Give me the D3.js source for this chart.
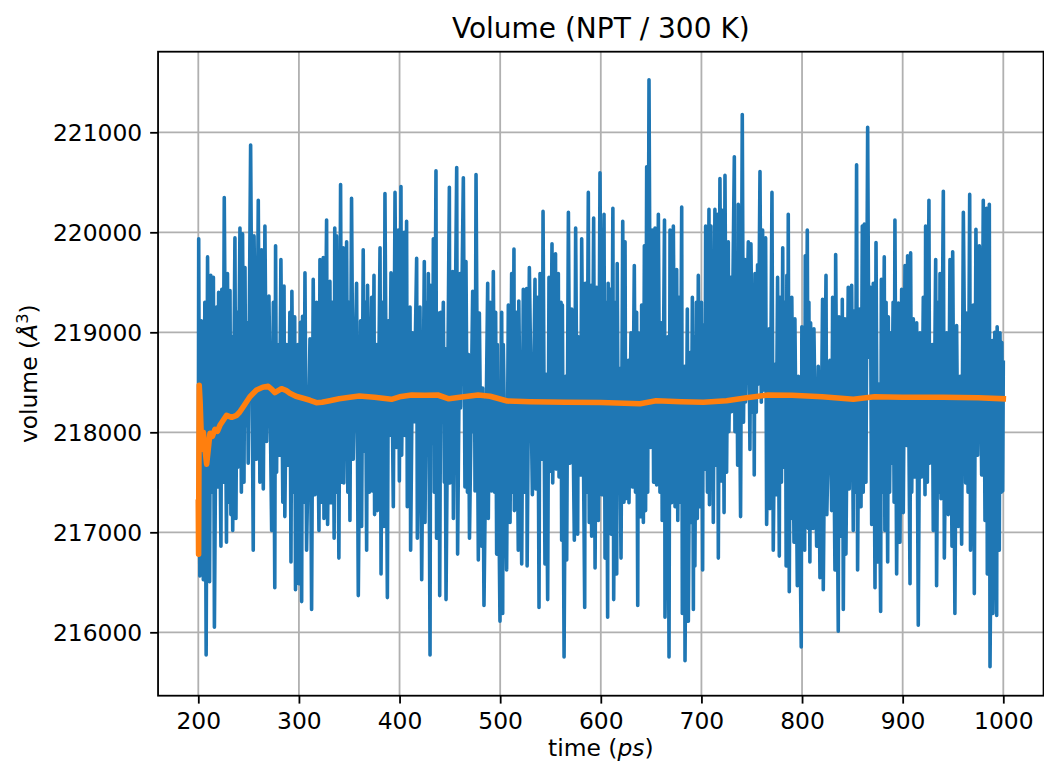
<!DOCTYPE html>
<html>
<head>
<meta charset="utf-8">
<script src="https://cdn.jsdelivr.net/npm/d3@7"></script>
<style>
  html, body { margin: 0; padding: 0; background: #ffffff; }
  svg { display: block; }
  text { font-family: "DejaVu Sans", sans-serif; fill: #000; }
</style>
</head>
<body>
<svg id="chart" width="1044" height="772"></svg>
<script>
// ---------------- data ----------------
const chartTitle = "Volume (NPT / 300 K)";
const xTicks = [200, 300, 400, 500, 600, 700, 800, 900, 1000];
const yTicks = [216000, 217000, 218000, 219000, 220000, 221000];
const xDomain = [160, 1040];
const yDomain = [215366, 221806];

// instantaneous volume [time (ps), volume (Å^3)]
const volumeSamples = [
[200,217200],[200.4,219936],[201.5,216564],[203,219114],[205,216525],[206.5,219300],[207.8,215774],[209.2,219754],[211.2,216505],[212.4,219569],[213.8,217400],[215,219549],[216,216050],[218.2,219252],[219.3,217454],[220.2,219399],[222.5,216861],[223.4,219430],[224.6,217500],[225.8,220347],[228,216900],[229,219588],[230.4,217300],[231.5,219418],[232.4,217177],[233.2,218956],[234.2,217019],[236.4,219944],[237.4,217138],[238.6,219200],[239.3,217651],[241.4,220043],[242.8,217400],[244,219984],[245.4,217500],[246.4,219648],[247.2,218066],[248.6,219095],[249.6,217691],[252,220873],[254.6,216821],[255.4,219964],[257.8,217730],[259.6,220320],[261.2,217500],[262.9,219826],[264.6,217434],[266.2,220063],[267.9,217908],[270.2,219363],[272.9,217019],[274.6,219300],[276,216446],[276.8,219865],[277.8,217600],[278.6,218877],[280.6,217770],[282.1,219727],[284,217300],[285.2,219462],[286,217157],[287.8,218877],[289.4,217671],[291,219200],[292.1,216703],[293,219410],[294.6,217400],[295.8,219154],[296.6,216426],[299,218877],[300,216485],[301.6,219100],[302.7,216307],[303.6,219161],[305,217300],[306,219596],[307.6,216821],[311,218936],[312.6,216228],[314.2,219529],[316,217375],[317.6,219300],[319.9,217019],[320.9,219727],[322.6,217300],[324.2,219747],[324.9,217138],[327.5,220122],[328.5,217078],[330.8,219509],[331.8,217296],[333.5,219300],[335,216940],[335.6,220043],[336.5,217400],[337.4,219964],[339.7,216742],[341.4,220478],[342.6,217500],[344,219845],[344.6,217493],[347.4,219905],[348.6,217400],[349.6,219300],[350.7,217118],[352.3,220340],[354,217730],[357.3,219490],[359,216367],[361.3,219114],[362.3,217059],[363.9,219826],
[364.8,217810],[366,219300],[367.3,216821],[368.2,219470],[370,217400],[372.3,219351],[373,217414],[374.6,219569],[375.2,217177],[377.3,218877],[378,217217],[380.6,219845],[381.6,216584],[383,219300],[384.5,217059],[385.5,220387],[387.9,216347],[388.9,219114],[390,217968],[391.5,219596],[393.8,217256],[395.5,220399],[397.1,217849],[398.8,220023],[399.8,217513],[401.4,220458],[402.1,217770],[404.6,220000],[405.4,217968],[407,220110],[407.7,217256],[410.4,219252],[411,216821],[413,218996],[414.4,218106],[417,219739],[417.7,216940],[420.3,219252],[422,216525],[424.6,219707],[425.3,217098],[427,219300],[427.6,217829],[428.6,219588],[430.3,215774],[431,219470],[432.9,217889],[433.6,219936],[434.5,217400],[436.2,220616],[436.8,216940],[439.2,219193],[439.9,216367],[441,219200],[441.8,218106],[443.5,219300],[444.5,217500],[445.2,218837],[446.2,216327],[449.5,220450],[450.1,217493],[452.8,219608],[453.5,217138],[456.8,220648],[457.7,216782],[460.1,219588],[460.6,218244],[463.4,220545],[465,217454],[466,219707],[467.5,217400],[468.5,218778],[469.5,216940],[472.7,219410],[473.3,218007],[474.3,219300],[475,217414],[476,220577],[478.3,216723],[479.3,219193],[481.6,216861],[482.6,218442],[483.9,216268],[487.6,219490],[488.2,217138],[490,219300],[491.5,217414],[493.2,219608],[494.5,217400],[495.5,219200],[496.5,216782],[497.2,218877],[499.8,216110],[501.5,219200],[502.5,216188],[503.1,218877],[506.4,216624],[508.1,219272],[509.8,217098],[511.4,219588],[512.5,217400],[513.7,219833],[514.1,217217],[516,219200],[518,216821],[518.5,219312],[521.4,216683],[523,219430],[524.5,217400],[526.3,219438],[526.8,216663],[529,219648],
[532,217375],[534.6,219529],[535.5,217434],[537.3,219351],[538.6,216248],[539.6,219588],[541.9,217730],[542.6,220209],[544.5,216683],[545.6,218580],[547.2,216327],[548.5,219549],[549.5,217612],[551.5,219885],[552.2,217493],[555,219786],[555.6,217632],[557.8,219588],[558.5,217553],[560.5,219300],[561.1,216920],[561.8,219272],[563.5,215754],[565.1,218561],[566.1,216723],[567.8,220201],[569.4,217691],[571.1,219233],[573.7,216920],[575,220043],[577,216980],[577.7,218956],[580,217573],[581,219936],[584,216248],[584.6,219490],[586,217400],[587.6,220399],[588.5,217098],[590.3,219470],[590.9,216960],[592.9,220142],[594.3,216643],[595.9,219450],[597.6,217118],[599.2,220596],[600.9,217375],[603.2,220181],[604.2,216742],[605.5,219300],[606.8,216150],[607.3,219490],[608.5,217400],[609.6,219430],[610.4,216980],[612,220241],[612.8,216327],[614.5,219300],[615.8,216584],[616.3,219687],[617.5,217400],[618.4,218640],[620.1,216742],[621.8,220110],[623,217300],[624.1,219905],[624.8,217335],[627.4,218719],[628,217296],[630,218996],[631.4,217454],[633.3,219668],[634.5,217400],[635.6,219200],[636.7,216268],[637.3,218996],[640,217157],[640.6,219272],[642.3,217098],[643.3,219865],[644.5,217217],[645.6,220656],[646.6,217400],[647.9,221525],[649.5,217849],[651.2,220023],[652.5,217500],[653.9,220043],[655.5,217474],[657.2,220181],[658.8,217400],[660.5,219095],[661,217118],[663.3,220122],[663.8,216150],[666.5,218956],[667.8,215754],[668.8,220023],[670.4,217296],[672.1,220063],[673.8,217256],[675.4,219628],[676.5,217118],[677.7,219351],[678.8,217300],[680.4,220253],[681,216188],[683,218660],[683.7,215715],[686,219233],[687,216110],[688.7,218798],[689.7,217098],[691,219351],[692,216228],
[692.6,218956],[693.5,216663],[695,219300],[695.9,217138],[696.9,219569],[698.5,217256],[700,219300],[701.2,216624],[701.8,219075],[703.5,217632],[704.2,220063],[706,217400],[707.5,220229],[708,217276],[709.5,220063],[710.3,218126],[711,219300],[711.8,217098],[713.4,220229],[714.4,217671],[715.8,220181],[716.8,216742],[718.4,220537],[720.1,217513],[721.1,220221],[722.5,217197],[723.4,220569],[725,217600],[726.7,219905],[727.3,218007],[729.3,219549],[729.9,218205],[732.7,220755],[733.3,218007],[735,219500],[736,217671],[736.6,220280],[738.9,217157],[740.6,221177],[741.8,218100],[743.3,219727],[743.8,218303],[746.6,219905],[748.2,217829],[749.2,219885],[750.8,218200],[752,219300],[752.5,217573],[753.2,219588],[754.5,218200],[755.8,219675],[756.5,218482],[758.2,220608],[759.5,218300],[760.8,220023],[761.3,218422],[763.8,219944],[764.8,217078],[767.4,219035],[768.1,217237],[770.1,220399],[771.4,216821],[773.1,218679],[774.1,217375],[775.7,219549],[777.4,216762],[778,219351],[779.5,217500],[780.8,219845],[781.6,217651],[783.5,219300],[784.2,216663],[784.9,219569],[785.8,217400],[786.3,220181],[787.3,216406],[788.5,219200],[789.2,217138],[789.8,219351],[792,216900],[792.9,219134],[795.3,216466],[796.3,218561],[799.2,215853],[799.8,219055],[802.6,216821],[803.2,219766],[804,217400],[805.2,220023],[806.2,217039],[806.8,219300],[807.8,216703],[808.5,219095],[811,217039],[811.8,219035],[814.5,216861],[816.1,218660],[817.8,216545],[820.4,219331],[821.1,216426],[823.8,219569],[824.6,217177],[827.7,218719],[829.4,217217],[830.4,219351],[832.7,216624],[833.4,219778],[836,216011],[836.7,219154],[839.3,216960],[840,219331],[841,216228],[842.6,219134],[843.6,216782],[845.9,219450],[846.9,217434],[849.3,219470],[850.9,217019],[851.6,219213],[853,217400],[854.2,220676],[855.2,216624],[856.9,219233],
[858.6,217256],[859.9,220063],[860.8,217400],[861.9,220083],[863.5,217500],[865.2,221051],[866.3,218750],[868,219450],[869.2,217078],[870.8,219490],[872.5,216446],[873.5,219897],[875.1,216703],[876.4,218482],[878.1,216208],[878.8,219529],[880,217400],[881.7,219754],[882.3,217019],[883.5,219300],[885.1,216703],[885.7,219154],[887,217400],[888.4,218996],[889,217691],[890.5,219300],[891.5,217300],[892.3,220122],[894,216584],[895.7,219292],[897.3,216900],[899,219430],[900.6,217197],[902.3,219668],[903.9,217869],[904.9,219766],[907.3,216485],[907.9,219794],[909,217400],[910.6,219134],[911.6,217553],[913.9,219095],[915.5,216070],[917.2,218996],[918.9,217553],[920.5,219351],[922.2,217375],[922.8,220063],[924.5,217500],[926.1,220320],[926.8,217691],[929.4,218877],[930.4,217019],[932.8,219727],[933.7,216466],[935.5,219300],[936.3,217400],[937.1,219588],[938.1,217335],[940.4,220411],[941.4,216742],[943.7,218996],[945.3,217177],[947,219727],[949,216861],[949.7,219806],[951.9,216188],[953.6,219067],[955.3,217059],[957,218561],[958.6,216881],[960.3,220201],[962.6,217493],[963.6,219193],[965,217400],[966.6,220379],[967.4,216821],[970.2,219272],[971.2,216387],[972.8,220031],[974.5,217770],[976.2,219865],[978.5,217573],[980.1,220320],[981.8,217118],[983.4,220241],[984.1,216584],[986.1,220280],[986.8,215655],[989.1,218917],[989.6,216188],[991.5,219000],[993.4,216168],[993.9,219055],[996,216821],[996.7,218996],[998,217400],[998.6,218897],[999.4,217414],[1000,218700]
];

// running average [time (ps), volume (Å^3)]
const runningAverage = [
[200,217300],[200.3,216780],[200.9,218470],[201.8,218300],[203.4,217830],[205,218000],[206,217890],[208.3,217680],[211.6,217990],[214,217960],[216.6,218030],[219,218010],[221.5,218070],[224.8,218120],[228.1,218170],[233.1,218150],[238.1,218170],[241,218200],[244.7,218256],[251.3,218356],[257.9,218423],[264,218450],[269.5,218460],[273,218430],[276.1,218396],[282.7,218436],[287,218420],[291,218390],[297,218360],[304.2,218340],[311,218320],[317.4,218296],[323,218300],[330.7,218316],[340,218335],[350.6,218350],[360,218363],[375,218350],[392,218330],[400,218355],[412,218373],[425,218370],[438,218373],[449,218335],[460,218350],[478,218373],[490,218360],[507,218313],[530,218305],[565,218300],[600,218298],[639,218285],[655,218316],[680,218305],[702,218300],[725,218315],[745,218345],[766,218373],[790,218370],[820,218355],[851,218330],[872,218355],[900,218350],[940,218350],[975,218345],[1000,218335]
];

// ---------------- drawing ----------------
const W = 1044, H = 772;
const plot = { left: 158.05, right: 1043.55, top: 51.7, bottom: 695.7 };
const tickLen = 7.9, tickPad = 7.9;
const fontTick = 23.4, fontTitle = 28;

const svg = d3.select("#chart");
svg.append("rect").attr("width", W).attr("height", H).attr("fill", "#fff");

const x = d3.scaleLinear().domain(xDomain).range([plot.left, plot.right]);
const y = d3.scaleLinear().domain(yDomain).range([plot.bottom, plot.top]);

svg.append("defs").append("clipPath").attr("id", "clip")
  .append("rect")
  .attr("x", plot.left).attr("y", plot.top)
  .attr("width", plot.right - plot.left).attr("height", plot.bottom - plot.top);

// grid
const grid = svg.append("g").attr("stroke", "#b0b0b0").attr("stroke-width", 1.8);
grid.selectAll("line.gx").data(xTicks).join("line")
  .attr("class", "gx")
  .attr("x1", d => x(d)).attr("x2", d => x(d))
  .attr("y1", plot.top).attr("y2", plot.bottom);
grid.selectAll("line.gy").data(yTicks).join("line")
  .attr("class", "gy")
  .attr("y1", d => y(d)).attr("y2", d => y(d))
  .attr("x1", plot.left).attr("x2", plot.right);

// lines
const line = d3.line().x(d => x(d[0])).y(d => y(d[1]));
const lines = svg.append("g").attr("clip-path", "url(#clip)");
lines.append("path").datum(volumeSamples)
  .attr("d", line).attr("fill", "none")
  .attr("stroke", "#1f77b4").attr("stroke-width", 3.6)
  .attr("stroke-linejoin", "round").attr("stroke-linecap", "square");
lines.append("path").datum(runningAverage)
  .attr("d", line).attr("fill", "none")
  .attr("stroke", "#ff7f0e").attr("stroke-width", 5.6)
  .attr("stroke-linejoin", "round").attr("stroke-linecap", "square");

// axes via d3 axis generators
const xAxis = d3.axisBottom(x).tickValues(xTicks).tickFormat(d3.format("d"))
  .tickSizeInner(tickLen).tickSizeOuter(0).tickPadding(tickPad);
const yAxis = d3.axisLeft(y).tickValues(yTicks).tickFormat(d3.format("d"))
  .tickSizeInner(tickLen).tickSizeOuter(0).tickPadding(tickPad);

const gx = svg.append("g").attr("transform", `translate(0,${plot.bottom})`).call(xAxis);
const gy = svg.append("g").attr("transform", `translate(${plot.left},0)`).call(yAxis);
[gx, gy].forEach(g => {
  g.select(".domain").remove();
  g.selectAll(".tick line").attr("stroke", "#000").attr("stroke-width", 1.8);
  g.selectAll(".tick text").attr("font-family", "DejaVu Sans").attr("font-size", fontTick).attr("fill", "#000");
});
gx.selectAll(".tick text").attr("dy", null).attr("y", tickLen + tickPad + 17.8);
gy.selectAll(".tick text").attr("dy", null).attr("y", 8.6);

// spines
svg.append("rect")
  .attr("x", plot.left).attr("y", plot.top)
  .attr("width", plot.right - plot.left).attr("height", plot.bottom - plot.top)
  .attr("fill", "none").attr("stroke", "#000").attr("stroke-width", 1.8);

// title
svg.append("text")
  .attr("x", (plot.left + plot.right) / 2).attr("y", 38)
  .attr("text-anchor", "middle").attr("font-size", fontTitle)
  .text(chartTitle);

// x label
const xl = svg.append("text")
  .attr("x", (plot.left + plot.right) / 2).attr("y", 756)
  .attr("text-anchor", "middle").attr("font-size", fontTick);
xl.append("tspan").text("time (");
xl.append("tspan").attr("font-style", "italic").text("ps");
xl.append("tspan").text(")");

// y label
const yl = svg.append("text")
  .attr("transform", `translate(36.5,${(plot.top + plot.bottom) / 2}) rotate(-90)`)
  .attr("text-anchor", "middle").attr("font-size", fontTick);
yl.append("tspan").text("volume (");
yl.append("tspan").attr("font-style", "italic").text("Å");
yl.append("tspan").attr("font-size", 16.4).attr("dy", -9).text("3");
yl.append("tspan").attr("dy", 9).text(")");
</script>
</body>
</html>
